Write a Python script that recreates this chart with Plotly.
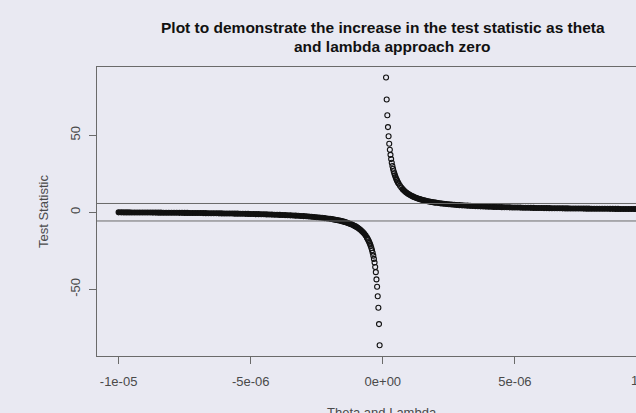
import plotly.graph_objects as go

# |theta| (= |lambda|) values, in units of 1e-7
THETA_E7 = [1.215, 1.455, 1.695, 1.935, 2.175, 2.415, 2.655, 2.895, 3.135, 3.375,
            3.615, 3.855, 4.095, 4.335, 4.575, 4.815, 5.055, 5.295, 5.535, 5.775, 6.015,
            6.5, 7, 7.5, 8, 8.5, 9, 9.5, 10, 10.5, 11, 11.5, 12, 12.5, 13, 13.5, 14,
            14.5, 15, 15.5, 16, 16.5, 17, 17.5, 18, 18.5, 19, 19.5, 20,
            21, 22, 23, 24, 25, 26, 27, 28, 29, 30, 31, 32, 33, 34, 35, 36, 37, 38, 39, 40,
            41, 42, 43, 44, 45, 46, 47, 48, 49, 50, 51, 52, 53, 54, 55, 56, 57, 58, 59, 60,
            61, 62, 63, 64, 65, 66, 67, 68, 69, 70, 71, 72, 73, 74, 75, 76, 77, 78, 79, 80,
            81, 82, 83, 84, 85, 86, 87, 88, 89, 90, 91, 92, 93, 94, 95, 96, 97, 98, 99, 100]

# test statistic for positive theta
STAT_POS = [87.47, 73.21, 63.00, 55.31, 49.33, 44.53, 40.60, 37.32, 34.54, 32.16,
            30.10, 28.29, 26.69, 25.27, 24.00, 22.86, 21.82, 20.88, 20.02, 19.23, 18.51,
            17.20, 16.05, 15.05, 14.18, 13.40, 12.72, 12.10, 11.55, 11.05, 10.60, 10.18,
            9.80, 9.45, 9.13, 8.83, 8.55, 8.29, 8.05, 7.82, 7.61, 7.41, 7.23, 7.05, 6.88,
            6.73, 6.58, 6.43, 6.30,
            6.05, 5.82, 5.62, 5.43, 5.25, 5.09, 4.94, 4.80, 4.67, 4.55, 4.44, 4.33, 4.23,
            4.14, 4.05, 3.97, 3.89, 3.81, 3.74, 3.68, 3.61, 3.55, 3.49, 3.44, 3.38, 3.33,
            3.28, 3.24, 3.19, 3.15, 3.11, 3.07, 3.03, 2.99, 2.96, 2.93, 2.89, 2.86, 2.83,
            2.80, 2.77, 2.74, 2.72, 2.69, 2.67, 2.64, 2.62, 2.59, 2.57, 2.55, 2.53, 2.51,
            2.49, 2.47, 2.45, 2.43, 2.41, 2.40, 2.38, 2.36, 2.35, 2.33, 2.32, 2.30, 2.29,
            2.27, 2.26, 2.24, 2.23, 2.22, 2.20, 2.19, 2.18, 2.17, 2.16, 2.14, 2.13, 2.12,
            2.11, 2.10]

# test statistic for negative theta (same |theta| grid)
STAT_NEG = [-86.2, -72.5, -61.9, -54.4, -48.3, -43.5, -38.8, -35.5, -32.6, -30.2,
            -28.1, -26.2, -24.6, -23.2, -21.9, -20.76, -19.72, -18.78, -17.92, -17.13, -16.41,
            -15.10, -13.95, -12.95, -12.08, -11.30, -10.62, -10.00, -9.45, -8.95, -8.50,
            -8.08, -7.70, -7.35, -7.03, -6.73, -6.45, -6.19, -5.95, -5.72, -5.51, -5.31,
            -5.13, -4.95, -4.78, -4.63, -4.48, -4.33, -4.20,
            -3.95, -3.72, -3.52, -3.33, -3.15, -2.99, -2.84, -2.70, -2.57, -2.45, -2.34,
            -2.23, -2.13, -2.04, -1.95, -1.87, -1.79, -1.71, -1.64, -1.58, -1.51, -1.45,
            -1.39, -1.34, -1.28, -1.23, -1.18, -1.14, -1.09, -1.05, -1.01, -0.97, -0.93,
            -0.89, -0.86, -0.83, -0.79, -0.76, -0.73, -0.70, -0.67, -0.64, -0.62, -0.59,
            -0.57, -0.54, -0.52, -0.49, -0.47, -0.45, -0.43, -0.41, -0.39, -0.37, -0.35,
            -0.33, -0.31, -0.30, -0.28, -0.26, -0.25, -0.23, -0.22, -0.20, -0.19, -0.17,
            -0.16, -0.14, -0.13, -0.12, -0.10, -0.09, -0.08, -0.07, -0.06, -0.04, -0.03,
            -0.02, -0.01, 0.00]

CRITICAL_VALUES = [5.75, -5.6]

X_TICK_VALS = [-1e-05, -5e-06, 0, 5e-06]
X_TICK_TEXT = ["-1e-05", "-5e-06", "0e+00", "5e-06"]
Y_TICK_VALS = [-50, 0, 50]
Y_TICK_TEXT = ["-50", "0", "50"]

TITLE_1 = "Plot to demonstrate the increase in the test statistic as theta"
TITLE_2 = "and lambda approach zero"
X_TITLE = "Theta and Lambda"
Y_TITLE = "Test Statistic"

BG = "#e9e9f2"
AXC = "#6a6a6a"
TXT = "#4a4a4a"
PT = "#111111"
FONT = "Liberation Sans, Arial, sans-serif"

n = min(len(THETA_E7), len(STAT_POS), len(STAT_NEG))
x_neg = [-t * 1e-7 for t in THETA_E7[:n]][::-1]
y_neg = STAT_NEG[:n][::-1]
x_pos = [t * 1e-7 for t in THETA_E7[:n]]
y_pos = STAT_POS[:n]
xs = x_neg + x_pos
ys = y_neg + y_pos

# sparse points near zero are drawn as open circles; where the points crowd
# together (|stat| < 16) they overlap into a solid black band
symbols = ["circle-open" if abs(v) >= 16 else "circle" for v in ys]

fig = go.Figure()
fig.add_trace(go.Scatter(
    x=xs, y=ys, mode="markers",
    marker=dict(symbol=symbols, size=5, color=PT,
                line=dict(width=1.1, color=PT)),
    showlegend=False, hoverinfo="skip"))

for v in CRITICAL_VALUES:
    fig.add_shape(type="line", xref="paper", x0=0, x1=1, yref="y", y0=v, y1=v,
                  line=dict(color=AXC, width=1))

W, H = 636, 413
L, R, T, B = 97, 0, 67, 57
pw, ph = W - L - R, H - T - B


def px(xp):
    return (xp - L) / pw


def py(yp):
    return (H - B - yp) / ph


annotations = [
    dict(text="<b>%s</b>" % TITLE_1, x=px(382.5), y=py(28), xref="paper", yref="paper",
         xanchor="center", yanchor="middle", showarrow=False,
         font=dict(size=15.5, color="#111111", family=FONT)),
    dict(text="<b>%s</b>" % TITLE_2, x=px(391.5), y=py(46.5), xref="paper", yref="paper",
         xanchor="center", yanchor="middle", showarrow=False,
         font=dict(size=15.5, color="#111111", family=FONT)),
    dict(text=Y_TITLE, x=px(43.5), y=py(211.5), xref="paper", yref="paper", textangle=-90,
         xanchor="center", yanchor="middle", showarrow=False,
         font=dict(size=13, color=TXT, family=FONT)),
    dict(text=X_TITLE, x=px(381.7), y=py(412), xref="paper", yref="paper",
         xanchor="center", yanchor="middle", showarrow=False,
         font=dict(size=13, color=TXT, family=FONT)),
    dict(text="1e-05", x=px(647), y=py(380), xref="paper", yref="paper",
         xanchor="center", yanchor="middle", showarrow=False,
         font=dict(size=13, color=TXT, family=FONT)),
]

fig.update_layout(
    width=W, height=H, margin=dict(l=L, r=R, t=T, b=B, pad=0),
    paper_bgcolor=BG, plot_bgcolor=BG,
    font=dict(family=FONT, size=13, color=TXT),
    annotations=annotations,
    xaxis=dict(range=[-1.0817e-05, 9.58e-06], showgrid=False, zeroline=False,
               showline=True, mirror=True, linecolor=AXC, linewidth=1,
               ticks="outside", ticklen=7, tickcolor=AXC, tickwidth=1,
               tickvals=X_TICK_VALS, ticktext=X_TICK_TEXT, ticklabelstandoff=6,
               tickfont=dict(size=13, color=TXT, family=FONT)),
    yaxis=dict(range=[-93.2, 94.3], showgrid=False, zeroline=False,
               showline=True, mirror=False, linecolor=AXC, linewidth=1,
               ticks="outside", ticklen=7, tickcolor=AXC, tickwidth=1,
               tickvals=Y_TICK_VALS, ticktext=Y_TICK_TEXT, tickangle=-90,
               ticklabelstandoff=4,
               tickfont=dict(size=13, color=TXT, family=FONT)),
)

fig.write_html(
    "out.html",
    config={"displayModeBar": False, "staticPlot": True},
    post_script="document.body.style.margin='0px';"
                "document.body.style.background='%s';" % BG,
)
